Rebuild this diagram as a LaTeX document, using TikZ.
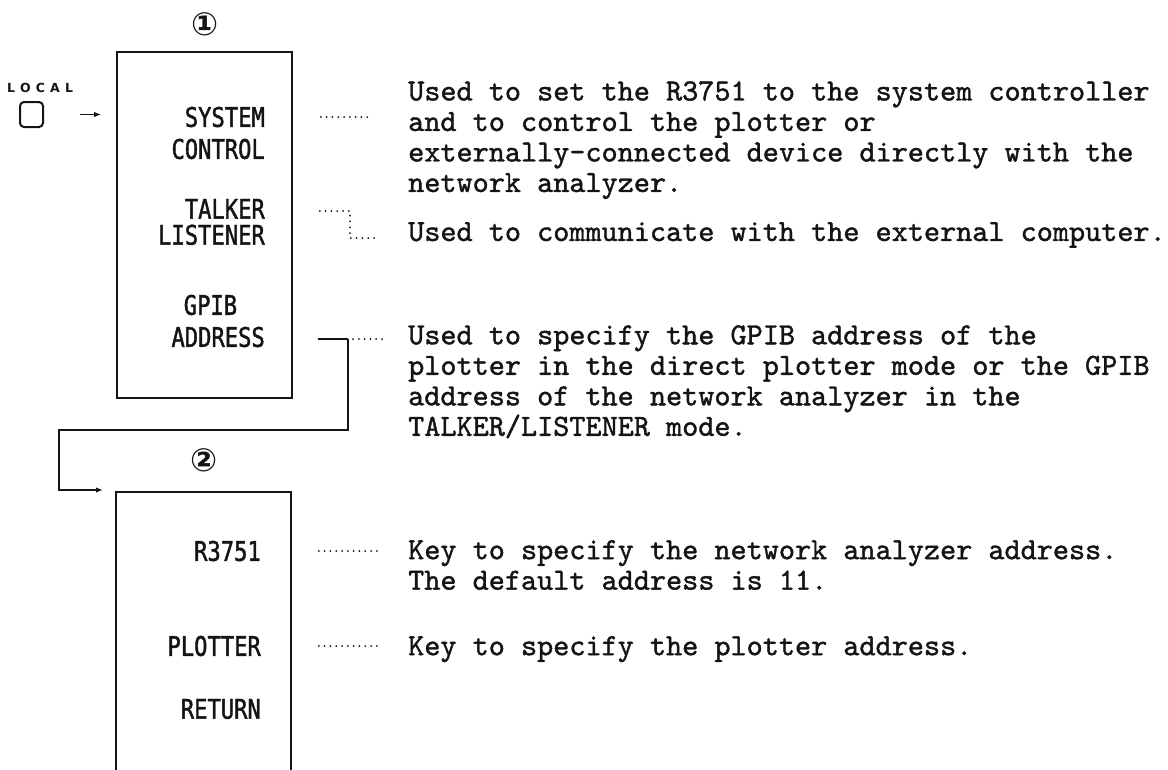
\documentclass[tikz,border=0pt]{standalone}
\usepackage{fontspec}
\newfontfamily\keyfont[FakeStretch=0.82,FakeBold=1.5]{DejaVu Sans Mono}
\newfontfamily\symfont{DejaVu Sans}
\newfontfamily\descfont[FakeBold=1.3]{lmmono10-regular.otf}
\usepackage{xcolor}
\definecolor{PrintInk}{HTML}{141414}
\usepackage{tikz}
\usetikzlibrary{calc, arrows.meta, positioning}

\begin{document}
\begin{tikzpicture}[x=1pt,y=-1pt,color=PrintInk,
  panel/.style={draw,inner sep=0,line width=1.7pt},
  keylbl/.style={inner sep=0,anchor=east,align=right,font=\keyfont\fontsize{27}{32}\selectfont},
  desc/.style={inner sep=0,anchor=north west,align=left,font=\descfont\fontsize{30.7}{30.5}\selectfont},
  dotlink/.style={line width=2pt,dash pattern=on 0pt off 5.8pt,line cap=round},
  wire/.style={line width=1.7pt},
  tag/.style={inner sep=0,font=\symfont\bfseries\fontsize{32}{32}\selectfont}]
  \useasboundingbox (0,0) rectangle (1168,769);

  % menu panels
  \node[tag] (n1) at (205,24) {①};
  \node[panel,minimum width=175,minimum height=346] (panel1) at (204.5,225) {};
  \node[tag] (n2) at (204,460) {②};
  \node[panel,minimum width=175,minimum height=296] (panel2) at (203.5,640) {};

  % LOCAL key
  \node[inner sep=0,font=\symfont\bfseries\fontsize{12.5}{13}\selectfont] (loclbl) at (40,88)
    {\makebox[66pt][s]{L\hfill O\hfill C\hfill A\hfill L}};
  \node[draw,rounded corners=4pt,minimum width=23,minimum height=25,line width=2pt,inner sep=0] (lockey) at (31.5,114.5) {};
  \draw[-{Latex[length=7pt,width=5.5pt]},line width=1.8pt,shorten <=36,shorten >=15] (lockey) -- (panel1.west |- lockey);

  % soft keys
  \node[keylbl] (sysk) at (265,133) {SYSTEM\\CONTROL};
  \node[keylbl,font=\keyfont\fontsize{27}{26}\selectfont] (talk) at (265,222) {TALKER\\LISTENER};
  \node[keylbl] (gpib) at (265,321) {\makebox[93pt][l]{\hspace{12pt}GPIB}\\ADDRESS};
  \node[keylbl] (r3751) at (261,551) {R3751};
  \node[keylbl] (plot) at (261,646) {PLOTTER};
  \node[keylbl] (ret) at (261,709) {RETURN};

  % descriptions
  \node[desc] (sysd) at (408,81) {Used to set the R3751 to the system controller\\and to control the plotter or\\externally-connected device directly with the\\network analyzer.};
  \node[desc] (talkd) at (408,222) {Used to communicate with the external computer.};
  \node[desc] (gpibd) at (408,325) {Used to specify the GPIB address of the\\plotter in the direct plotter mode or the GPIB\\address of the network analyzer in the\\TALKER/LISTENER mode.};
  \node[desc] (r3751d) at (408,540) {Key to specify the network analyzer address.\\The default address is 11.};
  \node[desc] (plotd) at (408,636) {Key to specify the plotter address.};

  % leaders
  \draw[dotlink] ($(panel1.east |- 0,117)+(28,0)$) -- ++(50,0);
  \draw[dotlink] ($(panel1.east |- 0,211)+(27,0)$) -| (350,238) -- (377,238);
  \coordinate (gjoin) at (348,339);
  \coordinate (arrowend) at (103,490);
  \draw[wire] ($(panel1.east |- gjoin)+(25,0)$) -- (gjoin);
  \draw[dotlink] ($(gjoin)+(5,0)$) -- ++(30,0);
  \draw[wire,-{Latex[length=7pt,width=5.5pt]}] (gjoin) |- (59,430) |- (arrowend);
  \draw[dotlink] ($(panel2.east |- r3751)+(27,0)$) -- ++(59,0);
  \draw[dotlink] ($(panel2.east |- plot)+(27,0)$) -- ++(58,0);
\end{tikzpicture}
\end{document}
